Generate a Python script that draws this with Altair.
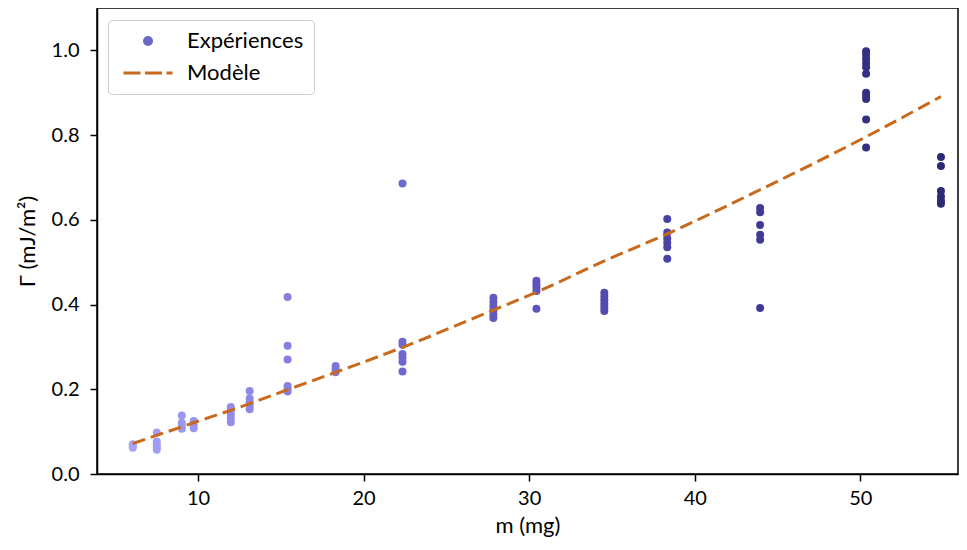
import altair as alt
import pandas as pd

# ---- data ----
masses = [6.06, 7.51, 9.02, 9.74, 11.98, 13.12, 15.41, 18.31, 22.35,
          27.84, 30.44, 34.54, 38.34, 43.95, 50.35, 54.87]
gammas = [
    [0.070, 0.066, 0.062],
    [0.098, 0.077, 0.069, 0.063, 0.057],
    [0.138, 0.121, 0.114, 0.107],
    [0.125, 0.116, 0.108],
    [0.158, 0.150, 0.141, 0.131, 0.122],
    [0.196, 0.178, 0.170, 0.161, 0.153],
    [0.418, 0.303, 0.270, 0.208, 0.201, 0.195],
    [0.255, 0.248, 0.240],
    [0.686, 0.312, 0.305, 0.283, 0.275, 0.265, 0.242],
    [0.416, 0.406, 0.396, 0.386, 0.376, 0.368],
    [0.456, 0.448, 0.440, 0.432, 0.390],
    [0.428, 0.419, 0.410, 0.401, 0.393, 0.385],
    [0.602, 0.570, 0.556, 0.546, 0.535, 0.508],
    [0.628, 0.618, 0.588, 0.565, 0.553, 0.392],
    [0.998, 0.990, 0.980, 0.970, 0.960, 0.945, 0.900, 0.892, 0.885, 0.837, 0.771],
    [0.748, 0.727, 0.668, 0.655, 0.645, 0.638],
]
model_m = [6.06, 9.74, 13.12, 15.41, 18.31, 22.35, 27.84, 30.44, 34.54,
           38.34, 43.95, 50.35, 54.87]
model_gamma = [0.072, 0.121, 0.166, 0.199, 0.240, 0.299, 0.387, 0.429, 0.503,
               0.567, 0.671, 0.796, 0.891]
legend_labels = ["Expériences", "Modèle"]
x_ticks = [10, 20, 30, 40, 50]
y_ticks = [0.0, 0.2, 0.4, 0.6, 0.8, 1.0]
color_stops_m = [6, 22, 38, 55]
color_stops = ["#a6a3f8", "#6e69cf", "#4a44a6", "#2c2977"]

rows = [{"m": m, "gamma": g} for m, gs in zip(masses, gammas) for g in gs]
exp_df = pd.DataFrame(rows)
model_df = pd.DataFrame({"m": model_m, "gamma": model_gamma})
legend_df = pd.DataFrame({"serie": legend_labels})

FONT = "Lato"
ORANGE = "#c8691c"

x_scale = alt.Scale(domain=[3.9, 55.9], nice=False, zero=False)
y_scale = alt.Scale(domain=[0, 1.1], nice=False)

x_axis = alt.Axis(title="m (mg)", values=x_ticks, format="d", grid=False,
                  labelPadding=7, titlePadding=7, labelFontSize=20, titleFontSize=22)
y_axis = alt.Axis(title="Γ (mJ/m²)", values=y_ticks, format=".1f", grid=False,
                  labelPadding=11, titlePadding=12, labelFontSize=20, titleFontSize=22)

points = alt.Chart(exp_df).mark_circle(size=64, opacity=1).encode(
    x=alt.X("m:Q", scale=x_scale, axis=x_axis),
    y=alt.Y("gamma:Q", scale=y_scale, axis=y_axis),
    fill=alt.Fill("m:Q", scale=alt.Scale(domain=color_stops_m, range=color_stops),
                  legend=None),
)

line = alt.Chart(model_df).mark_line(
    color=ORANGE, strokeWidth=3, strokeDash=[13, 6], interpolate="monotone"
).encode(x="m:Q", y="gamma:Q")

dash_path = ("M-4.9,-0.3H-1.5V0.3H-4.9Z M-0.6,-0.3H2.8V0.3H-0.6Z "
             "M3.7,-0.3H4.9V0.3H3.7Z")
leg = alt.Legend(
    title=None, orient="none", legendX=11, legendY=12,
    symbolOpacity=1, symbolSize=100, symbolStrokeWidth=0,
    padding=10, symbolOffset=19, labelOffset=28, rowPadding=10,
    fillColor="white", strokeColor="#cccccc", cornerRadius=4,
    labelFont=FONT, labelFontSize=22, labelColor="black",
)
legend_layer = alt.Chart(legend_df).mark_point(filled=True, opacity=0).encode(
    color=alt.Color("serie:N",
                    scale=alt.Scale(domain=legend_labels, range=["#6c68c6", ORANGE]),
                    legend=leg),
    shape=alt.Shape("serie:N",
                    scale=alt.Scale(domain=legend_labels, range=["circle", dash_path]),
                    legend=leg),
)

chart = alt.layer(points, line, legend_layer).properties(
    width=861, height=466, autosize="none",
    padding={"left": 89, "top": 0, "right": 1, "bottom": 64},
).configure_view(
    stroke="black", strokeWidth=1.5
).configure_axis(
    domainColor="black", domainWidth=1.5, tickColor="black", tickWidth=1.5,
    tickSize=7, labelFont=FONT, labelColor="black",
    titleFont=FONT, titleFontWeight="normal", titleColor="black",
)

chart.save("out.html", embed_options={"renderer": "svg", "actions": False})
